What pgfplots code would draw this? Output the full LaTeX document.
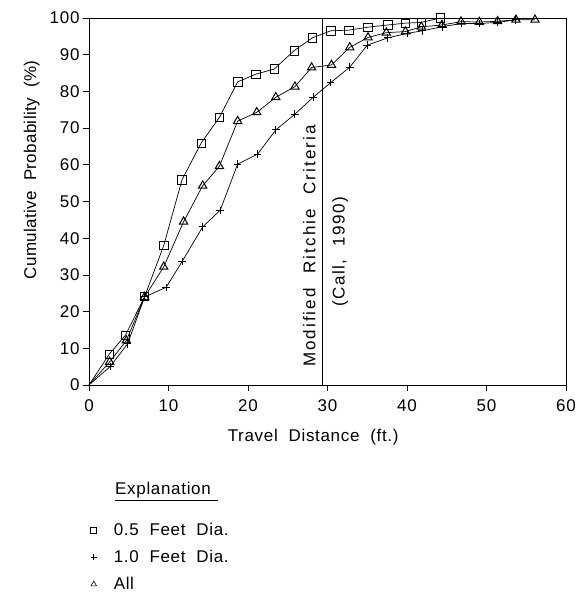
\documentclass[border=0pt]{standalone}
\usepackage{pgfplots}
\pgfplotsset{compat=1.18}
\usepackage{fontspec}
\setmainfont{Liberation Sans}[LetterSpace=4, WordSpace=2]
\newfontfamily\widefont{Liberation Sans}[LetterSpace=12, WordSpace=2.2]
\newfontfamily\callfont{Liberation Sans}[LetterSpace=9, WordSpace=2]
\newfontfamily\ylabfont{Liberation Sans}[LetterSpace=2, WordSpace=2]
\begin{document}
\begin{tikzpicture}
\path[use as bounding box] (-89pt,-207pt) rectangle (497pt,385pt);
\begin{axis}[
  at={(0pt,0pt)}, anchor=south west,
  scale only axis, width=477pt, height=367pt,
  xmin=0, xmax=60, ymin=0, ymax=100,
  clip=false,
  xtick={0,10,...,60}, ytick={0,10,...,100},
  xtick pos=bottom, ytick pos=left,
  tick align=outside, major tick length=6pt,
  font=\fontsize{17}{20}\selectfont,
  /pgf/number format/assume math mode=true,
  xticklabel style={yshift=-5pt},
  axis line style={line width=0.8pt},
  every tick/.style={black, line width=0.8pt},
  xlabel={Travel Distance (ft.)},
  ylabel={\ylabfont Cumulative Probability (\%)},
  xlabel style={at={(axis description cs:0.47,-0.143)}, anchor=center},
  ylabel style={at={(axis description cs:-0.12,0.586)}, anchor=center},
  legend style={draw=none, fill=none, at={(axis description cs:-0.003,-0.368)}, anchor=north west,
    font=\fontsize{17}{20}\selectfont, row sep=11pt,
    nodes={inner sep=0pt, text height=13pt, text depth=3pt},
    /tikz/every odd column/.append style={column sep=17pt}},
  legend cell align=left,
]
\addplot[black, line width=0.7pt, mark=square, mark size=4.2pt, mark options={solid}, mark indices={2,...,20}, forget plot] coordinates {
(0,0) (2.55,8.4) (4.6,13.6) (7.0,24.1) (9.4,38.0) (11.7,55.9) (14.1,65.9) (16.4,72.9) (18.7,82.6) (21.0,84.7) (23.3,86.1) (25.8,91.1) (28.1,94.6) (30.4,96.5) (32.7,96.7) (35.1,97.5) (37.6,98.1) (39.8,98.6) (41.8,98.8) (44.2,100)
};
\addplot[black, line width=0.7pt, mark=+, mark size=3.8pt, mark options={solid, line width=0.9pt}, mark indices={2,...,24}, forget plot] coordinates {
(0,0) (2.65,5.0) (4.85,11.2) (7.0,24.0) (9.7,26.6) (11.7,33.6) (14.3,43.1) (16.5,47.6) (18.7,60.2) (21.2,62.9) (23.5,69.5) (25.9,73.8) (28.2,78.4) (30.4,82.4) (32.8,86.6) (35.0,92.6) (37.6,94.6) (40.0,95.8) (41.9,96.5) (44.4,97.6) (46.8,98.5) (49.1,98.5) (51.4,98.8) (53.7,99.5)
};
\addplot[black, line width=0.7pt, mark=triangle, mark size=4.8pt, mark options={solid, line width=1pt}, mark indices={2,...,25}, forget plot] coordinates {
(0,0) (2.6,6.3) (4.7,12.1) (7.0,24.0) (9.4,32.2) (11.9,44.5) (14.3,54.3) (16.4,59.6) (18.7,71.9) (21.1,74.3) (23.5,78.4) (25.9,81.3) (28.0,86.5) (30.5,87.2) (32.8,92.0) (35.1,94.7) (37.4,96.0) (39.8,96.3) (41.8,97.6) (44.4,98.1) (46.8,99.0) (49.1,98.9) (51.4,99.1) (53.7,99.5) (56.1,99.5)
};
\addplot[black, line width=0.8pt, forget plot] coordinates {(29.4,0) (29.4,100)};
\node[rotate=90, anchor=west, inner sep=0pt] at (axis cs:27.7,4.9) {\widefont Modified Ritchie Criteria};
\node[rotate=90, anchor=west, inner sep=0pt] at (axis cs:31.6,21.3) {\callfont (Call, 1990)};
\node[anchor=base west, inner sep=0pt] at (axis description cs:0.0545,-0.2997) {\underline{Explanation\hspace*{7pt}}};
\addlegendimage{black, only marks, mark=square, mark size=3pt, line width=0.6pt}
\addlegendentry{0.5 Feet Dia.}
\addlegendimage{black, only marks, mark=+, mark size=3pt, line width=0.6pt}
\addlegendentry{1.0 Feet Dia.}
\addlegendimage{black, only marks, mark=triangle, mark size=3.2pt, line width=0.6pt}
\addlegendentry{All}
\end{axis}
\end{tikzpicture}
\end{document}
